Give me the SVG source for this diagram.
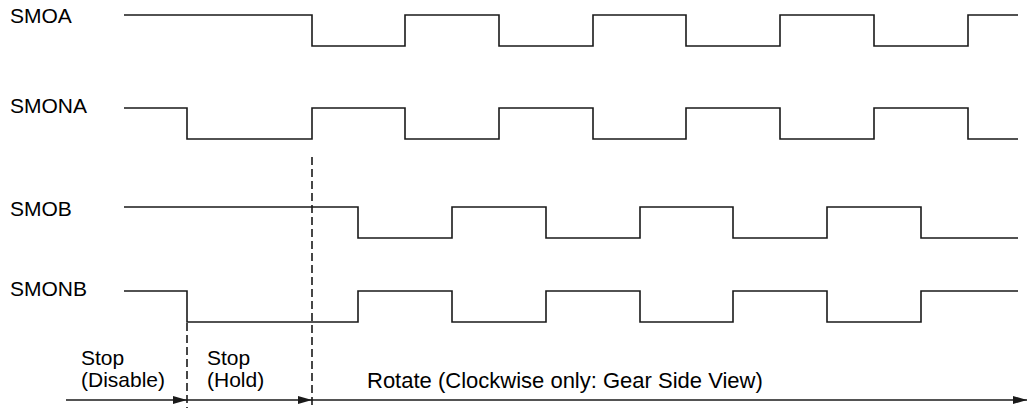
<svg xmlns="http://www.w3.org/2000/svg" width="1027" height="408" viewBox="0 0 1027 408">
<style>
.sig{fill:none;stroke:#1a1a1a;stroke-width:1.6;stroke-linejoin:miter}
.lbl{font-family:"Liberation Sans",Arial,sans-serif;font-size:21px;fill:#000}
.big{font-size:22px}
.dash{fill:none;stroke:#1a1a1a;stroke-width:1.6;stroke-dasharray:8 4}
.arr{fill:none;stroke:#1a1a1a;stroke-width:1.6}
</style>
<defs>
<marker id="ah" markerWidth="14" markerHeight="10" refX="14" refY="5" orient="auto" markerUnits="userSpaceOnUse">
<path d="M0,1 L14,5 L0,9 Z" fill="#1a1a1a"/>
</marker>
</defs>
<rect width="1027" height="408" fill="#fff"/>
<g id="SMOA">
<text class="lbl" x="10" y="23">SMOA</text>
<path class="sig" d="M124,15 H312 V46 H405 V15 H499 V46 H593 V15 H686 V46 H780 V15 H874 V46 H968 V15 H1018"/>
</g>
<g id="SMONA">
<text class="lbl" x="10" y="113">SMONA</text>
<path class="sig" d="M124,108 H187 V139 H312 V108 H405 V139 H499 V108 H593 V139 H686 V108 H780 V139 H874 V108 H968 V139 H1018"/>
</g>
<g id="SMOB">
<text class="lbl" x="10" y="216">SMOB</text>
<path class="sig" d="M124,207 H358 V238 H452 V207 H546 V238 H640 V207 H733 V238 H827 V207 H921 V238 H1018"/>
</g>
<g id="SMONB">
<text class="lbl" x="10" y="296">SMONB</text>
<path class="sig" d="M124,291 H187 V322 H358 V291 H452 V322 H546 V291 H640 V322 H733 V291 H827 V322 H921 V291 H1018"/>
</g>
<g id="phase-disable">
<text class="lbl" x="81" y="365">Stop</text>
<text class="lbl" x="81" y="387">(Disable)</text>
</g>
<g id="phase-hold">
<text class="lbl" x="207" y="365">Stop</text>
<text class="lbl" x="207" y="387">(Hold)</text>
</g>
<g id="phase-rotate">
<text class="lbl big" x="367" y="388">Rotate (Clockwise only: Gear Side View)</text>
</g>
<g id="connectors">
<line class="dash" x1="312" y1="157" x2="312" y2="408"/>
<line class="dash" x1="187" y1="323" x2="187" y2="408"/>
<line class="arr" x1="66" y1="400" x2="187" y2="400" marker-end="url(#ah)"/>
<line class="arr" x1="187" y1="400" x2="312" y2="400" marker-end="url(#ah)"/>
<line class="arr" x1="312" y1="400" x2="1027" y2="400" marker-end="url(#ah)"/>
</g>
</svg>
